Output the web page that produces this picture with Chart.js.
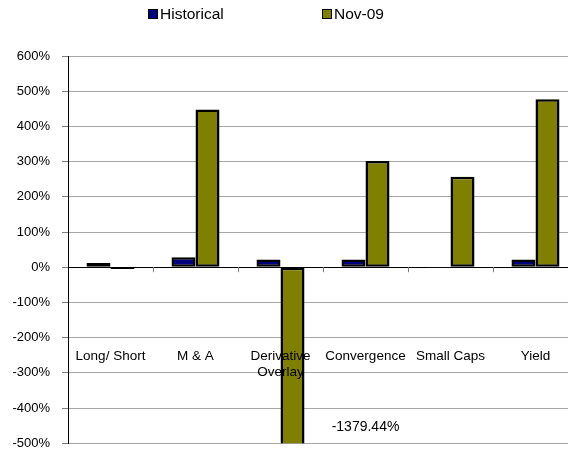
<!DOCTYPE html>
<html><head><meta charset="utf-8">
<script src="https://cdn.jsdelivr.net/npm/chart.js@4/dist/chart.umd.min.js"></script>
<style>
html,body{margin:0;padding:0;background:#fff;overflow:hidden;width:568px;height:453px;}
#wrap{position:absolute;left:0;top:0;width:590px;height:463px;}
#wrap canvas{display:block;}
.leg{position:absolute;top:4px;font:15.5px "Liberation Sans",Arial,sans-serif;color:#000;white-space:nowrap;line-height:20px;}
.leg i{display:inline-block;width:8px;height:8px;border:1.5px solid #000;margin-right:2px;vertical-align:0px;}
</style></head>
<body>
<div id="wrap"><canvas id="c" width="590" height="463"></canvas></div>
<div class="leg" style="left:148px"><i style="background:#000080"></i>Historical</div>
<div class="leg" style="left:322px"><i style="background:#808000"></i>Nov-09</div>
<script>
const categories = ['Long/ Short', 'M & A', ['Derivative', 'Overlay'], 'Convergence', 'Small Caps', 'Yield'];
const historical = [12, 28, 22, 22, -2, 22];
const nov09 = [-5, 448, -1379.44, 302, 257, 477];
const yTicks = [-500, -400, -300, -200, -100, 0, 100, 200, 300, 400, 500, 600];
const annotationText = '-1379.44%';

const labelPlugin = {
  id: 'labelPlugin',
  afterDraw(chart) {
    const ctx = chart.ctx, x = chart.scales.x, y = chart.scales.y, ca = chart.chartArea;
    ctx.save();
    const y0 = y.getPixelForValue(0);
    ctx.strokeStyle = '#808080'; ctx.lineWidth = 1;
    for (let i = 1; i < categories.length; i++) {
      const px = Math.round((x.getPixelForValue(i - 1) + x.getPixelForValue(i)) / 2) + 0.5;
      ctx.beginPath(); ctx.moveTo(px, y0); ctx.lineTo(px, y0 + 5); ctx.stroke();
    }
    ctx.fillStyle = '#000';
    ctx.font = '13.5px "Liberation Sans", Arial, sans-serif';
    ctx.textAlign = 'center'; ctx.textBaseline = 'middle';
    const ly = y.getPixelForValue(-250) + 1;
    categories.forEach((c, i) => {
      const lines = Array.isArray(c) ? c : [c];
      lines.forEach((t, k) => ctx.fillText(t, x.getPixelForValue(i), ly + k * 16));
    });
    const bar = chart.getDatasetMeta(1).data[2];
    ctx.font = '14px "Liberation Sans", Arial, sans-serif';
    ctx.fillText(annotationText, bar.x + 73, ca.bottom - 16);
    ctx.restore();
  }
};

new Chart(document.getElementById('c'), {
  type: 'bar',
  data: {
    labels: categories,
    datasets: [
      { label: 'Historical', data: historical, backgroundColor: '#000080', borderColor: ctx => (historical[ctx.dataIndex] < 0 ? '#999' : '#000'), borderWidth: 2.5, borderSkipped: false },
      { label: 'Nov-09', data: nov09, backgroundColor: '#808000', borderColor: '#000', borderWidth: 2.5, borderSkipped: false }
    ]
  },
  options: {
    responsive: false,
    animation: false,
    devicePixelRatio: 1,
    layout: { padding: { left: 0, top: 56, right: 12, bottom: 0 } },
    datasets: { bar: { barPercentage: 1, categoryPercentage: 0.565 } },
    plugins: { legend: { display: false }, tooltip: { enabled: false } },
    scales: {
      x: { display: false },
      y: {
        min: -500, max: 600,
        afterBuildTicks: s => { s.ticks = yTicks.map(v => ({ value: v })); },
        afterFit: s => { s.width = 68; },
        ticks: { callback: v => v + '%', color: '#000', padding: 12, font: { family: '"Liberation Sans", Arial, sans-serif', size: 13 } },
        grid: { color: ctx => ctx.tick && ctx.tick.value === 0 ? '#000' : '#a6a6a6', tickColor: '#808080', tickLength: 6, lineWidth: 1 },
        border: { color: '#000', width: 1 }
      }
    }
  },
  plugins: [labelPlugin]
});
</script>
</body></html>
